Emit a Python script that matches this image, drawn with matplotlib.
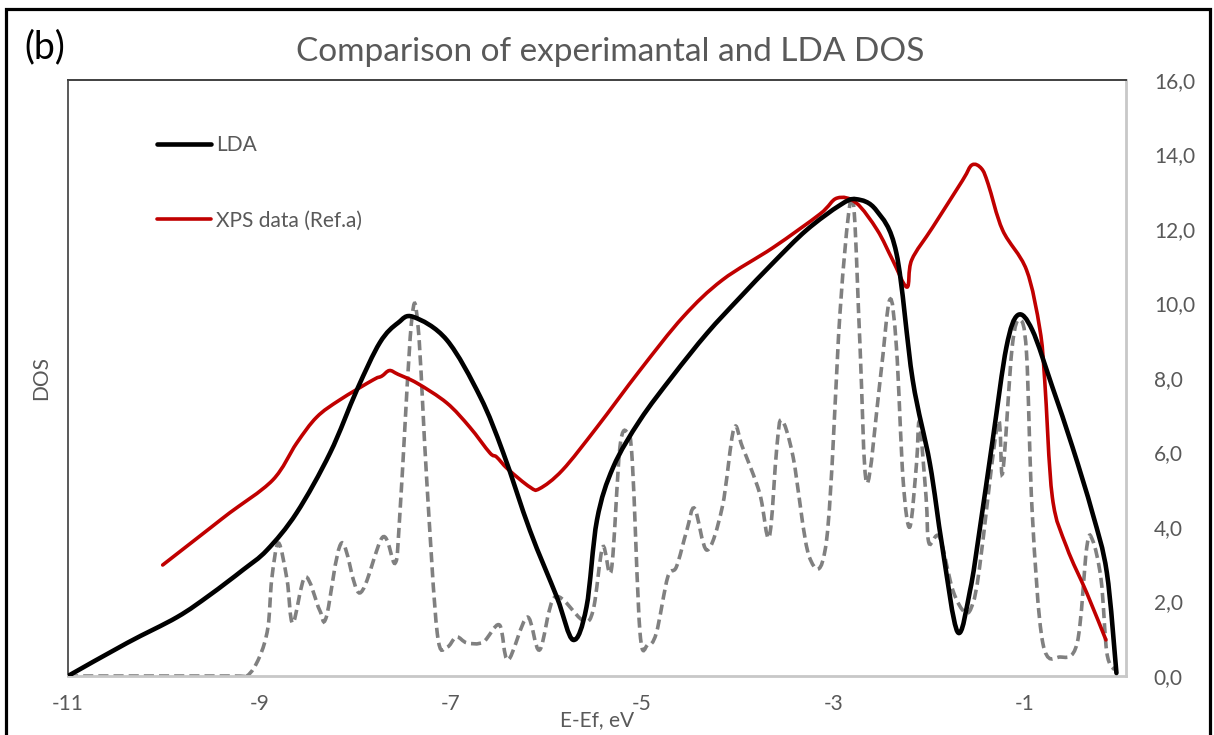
import numpy as np
import matplotlib
matplotlib.use('Agg')
import matplotlib.pyplot as plt
from matplotlib.path import Path
from matplotlib.patches import PathPatch, Rectangle
from matplotlib.lines import Line2D
from matplotlib.ticker import FuncFormatter

plt.rcParams['font.family'] = ['Lato', 'DejaVu Sans']
plt.rcParams['axes.unicode_minus'] = False

# LDA DOS (broadened)
lda_x = [-11, -10.38, -9.86, -9.52, -9.17, -8.92, -8.61, -8.26, -7.98, -7.74, -7.55,
         -7.39, -7.04, -6.69, -6.45, -6.17, -5.89, -5.72, -5.58, -5.47, -5.30,
         -5.02, -4.68, -4.32, -3.98, -3.63, -3.28, -2.93, -2.76, -2.55, -2.34,
         -2.17, -1.99, -1.86, -1.70, -1.57, -1.47, -1.33, -1.19, -1.07, -0.92,
         -0.71, -0.50, -0.29, -0.14, -0.04]
lda_y = [0, 0.89, 1.58, 2.17, 2.85, 3.38, 4.38, 5.99, 7.68, 8.95, 9.48,
         9.64, 9.02, 7.49, 5.99, 3.9, 2.12, 0.97, 1.85, 4.19, 5.61,
         6.87, 8.05, 9.2, 10.15, 11.09, 11.97, 12.64, 12.8, 12.5, 11.35,
         7.95, 5.7, 3.46, 1.18, 2.3, 3.92, 6.4, 8.83, 9.69, 9.29,
         7.76, 6.15, 4.37, 2.77, 0.08]

# XPS data (Ref.a)
xps_x = [-10.01, -9.5, -9.31, -8.86, -8.61, -8.40, -8.16, -7.81, -7.72, -7.64, -7.55,
         -7.35, -7.04, -6.80, -6.59, -6.52, -6.40, -6.17, -6.07, -5.83, -5.47,
         -5.02, -4.57, -4.16, -3.63, -3.14, -2.96, -2.76, -2.54, -2.38, -2.23,
         -2.18, -1.96, -1.65, -1.55, -1.45, -1.38, -1.23, -0.98, -0.84, -0.79,
         -0.71, -0.56, -0.35, -0.15]
xps_y = [2.98, 4.0, 4.38, 5.26, 6.25, 6.95, 7.41, 7.95, 8.05, 8.2, 8.1,
         7.86, 7.33, 6.68, 5.99, 5.88, 5.55, 5.07, 5.03, 5.53, 6.68,
         8.21, 9.64, 10.63, 11.5, 12.4, 12.83, 12.7, 11.97, 11.17, 10.44,
         11.17, 12.05, 13.3, 13.72, 13.62, 13.2, 11.97, 10.9, 9.3, 7.95,
         4.8, 3.46, 2.23, 0.97]

# unbroadened DOS
raw_x = [-11, -9.3, -9.13, -9.0, -8.91, -8.87, -8.80, -8.71, -8.65, -8.52, -8.37,
         -8.30, -8.14, -7.95, -7.71, -7.58, -7.53, -7.41, -7.34, -7.25, -7.14,
         -7.04, -6.94, -6.83, -6.66, -6.49, -6.40, -6.20, -6.07, -5.91, -5.62,
         -5.51, -5.41, -5.32, -5.23, -5.15, -5.10, -5.02, -4.94, -4.85, -4.73,
         -4.64, -4.53, -4.45, -4.32, -4.16, -4.04, -3.95, -3.77, -3.67, -3.59,
         -3.54, -3.42, -3.25, -3.07, -2.93, -2.83, -2.78, -2.72, -2.65, -2.51,
         -2.41, -2.34, -2.27, -2.20, -2.13, -2.10, -2.03, -2.0, -1.89, -1.75,
         -1.62, -1.54, -1.47, -1.28, -1.23, -1.13, -1.05, -0.98, -0.92, -0.81,
         -0.63, -0.45, -0.35, -0.29, -0.20, -0.14, -0.06]
raw_y = [0, 0, 0, 0.5, 1.3, 2.6, 3.57, 2.58, 1.42, 2.66, 1.77,
         1.58, 3.57, 2.23, 3.73, 3.03, 4.38, 9.48, 9.37, 5.26, 1.15,
         0.78, 1.05, 0.89, 0.91, 1.37, 0.43, 1.58, 0.7, 2.12, 1.5,
         1.77, 3.46, 2.85, 6.15, 6.52, 5.72, 1.15, 0.83, 1.15, 2.66,
         2.93, 3.92, 4.5, 3.38, 4.54, 6.63, 6.15, 4.91, 3.73, 6.15,
         6.87, 5.88, 3.19, 3.65, 9.74, 12.6, 12.4, 8.83, 5.18, 7.95,
         10.1, 8.83, 5.26, 4.0, 5.7, 6.8, 4.8, 3.57, 3.73, 2.3,
         1.7, 1.96, 2.93, 6.8, 5.45, 8.83, 9.56, 8.67, 4.37, 0.89,
         0.51, 0.89, 3.46, 3.65, 2.58, 0.62, 0.16]

x_ticks = [-11, -9, -7, -5, -3, -1]
y_ticks = [0, 2, 4, 6, 8, 10, 12, 14, 16]


def smooth_path(xs, ys):
    # Catmull-Rom through the points, written as cubic Bezier segments
    p = np.column_stack([xs, ys]).astype(float)
    n = len(p)
    verts = [p[0]]
    codes = [Path.MOVETO]
    for i in range(n - 1):
        p0 = p[i - 1] if i > 0 else p[i]
        p1 = p[i]
        p2 = p[i + 1]
        p3 = p[i + 2] if i + 2 < n else p[i + 1]
        verts += [p1 + (p2 - p0) / 6.0, p2 - (p3 - p1) / 6.0, p2]
        codes += [Path.CURVE4] * 3
    return Path(verts, codes)


fig = plt.figure(figsize=(12.14, 7.35), dpi=100)
ax = fig.add_axes([68 / 1214, 59 / 735, 1058 / 1214, 596 / 735])

txt = '#595959'

ax.add_patch(PathPatch(smooth_path(raw_x, raw_y), fill=False, edgecolor='#808080',
                       lw=2.6, linestyle=(0, (2.8, 1.4)), capstyle='butt', zorder=2))
ax.add_patch(PathPatch(smooth_path(xps_x, xps_y), fill=False, edgecolor='#c00000',
                       lw=2.6, capstyle='round', joinstyle='round', zorder=3))
ax.add_patch(PathPatch(smooth_path(lda_x, lda_y), fill=False, edgecolor='black',
                       lw=3.3, capstyle='round', joinstyle='round', zorder=4))

ax.set_xlim(-11, 0.06)
ax.set_ylim(0, 16)
ax.set_xticks(x_ticks)
ax.set_yticks(y_ticks)
ax.yaxis.tick_right()
ax.yaxis.set_major_formatter(FuncFormatter(lambda v, p: ('%.1f' % v).replace('.', ',')))
ax.tick_params(axis='both', length=0, labelsize=15, colors=txt)
ax.tick_params(axis='x', pad=13)
ax.tick_params(axis='y', pad=20)

ax.spines['left'].set_color('#595959')
ax.spines['top'].set_color('#404040')
ax.spines['left'].set_linewidth(1.4)
ax.spines['top'].set_linewidth(1.4)
ax.spines['right'].set_color('#c8c8c8')
ax.spines['bottom'].set_color('#c8c8c8')
ax.spines['right'].set_linewidth(2)
ax.spines['bottom'].set_linewidth(2)

ax.set_ylabel('DOS', fontsize=15, color=txt, labelpad=12)
ax.set_xlabel('E-Ef, eV', fontsize=15, color=txt, labelpad=-3)

handles = [Line2D([], [], color='black', lw=3.3, solid_capstyle='round'),
           Line2D([], [], color='#c00000', lw=2.6, solid_capstyle='round')]
leg = ax.legend(handles, ['LDA', 'XPS data (Ref.a)'], loc='upper left',
                bbox_to_anchor=(0.084, 0.907), frameon=False, fontsize=15,
                handlelength=2.6, handletextpad=0.25, labelspacing=2.65,
                borderpad=0, borderaxespad=0)
for t in leg.get_texts():
    t.set_color(txt)

fig.text(0.5025, 0.929, 'Comparison of experimantal and LDA DOS', ha='center',
         va='center', fontsize=24, color=txt)
fig.text(24 / 1214, 0.936, '(b)', ha='left', va='center', fontsize=27, color='black')

fig.patches.append(Rectangle((6 / 1214, -0.05), 1204 / 1214, 1.05 - 8.5 / 735,
                             transform=fig.transFigure, fill=False,
                             edgecolor='black', lw=2.3))

fig.savefig('out.png', dpi=100)
